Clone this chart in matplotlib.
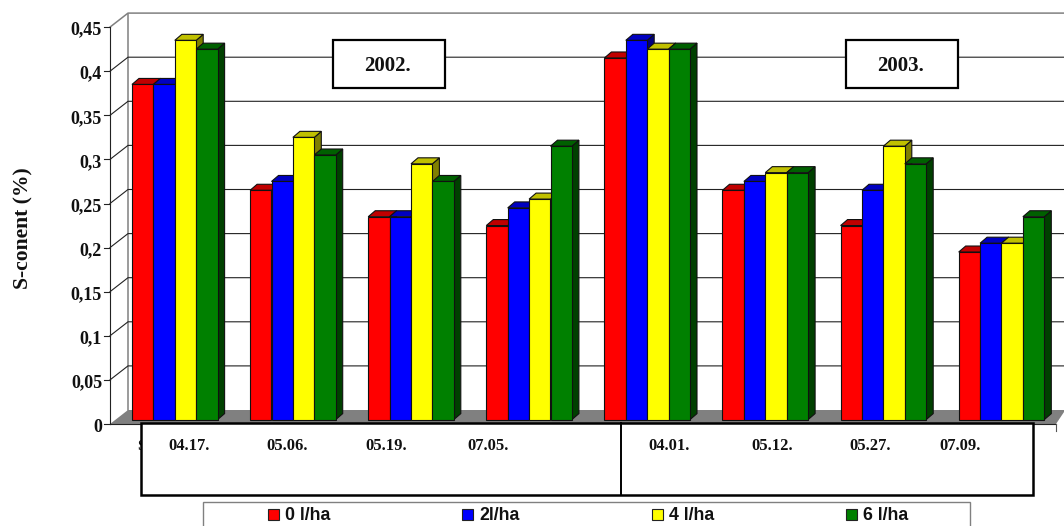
#!/usr/bin/env python3
"""S-content of the 2002 and 2003 samples, pseudo-3D bar chart"""

import matplotlib
matplotlib.use('Agg')
import matplotlib.pyplot as plt
from matplotlib.patches import Polygon, Rectangle

plt.rcParams['font.family'] = ['Liberation Serif', 'DejaVu Serif']
plt.rcParams['font.weight'] = 'bold'

dates_2002 = ['04.17.', '05.06.', '05.19.', '07.05.']
dates_2003 = ['04.01.', '05.12.', '05.27.', '07.09.']
doses = ['0 l/ha', '2l/ha', '4 l/ha', '6 l/ha']
ticks = [0, 0.05, 0.1, 0.15, 0.2, 0.25, 0.3, 0.35, 0.4, 0.45]
tick_labels = ['0', '0,05', '0,1', '0,15', '0,2', '0,25', '0,3', '0,35', '0,4', '0,45']

s_0 = [0.38, 0.26, 0.23, 0.22, 0.41, 0.26, 0.22, 0.19]
s_2 = [0.38, 0.27, 0.23, 0.24, 0.43, 0.27, 0.26, 0.20]
s_4 = [0.43, 0.32, 0.29, 0.25, 0.42, 0.28, 0.31, 0.20]
s_6 = [0.42, 0.30, 0.27, 0.31, 0.42, 0.28, 0.29, 0.23]
series = [s_0, s_2, s_4, s_6]

front = ['#ff0000', '#0000ff', '#ffff00', '#008000']
top = ['#c00000', '#0000c0', '#c0c000', '#006000']
side = ['#800000', '#000080', '#808000', '#004000']

W, H = 1064, 526
PX_PER_UNIT = 882       # vertical scale
BASE_Y = 419.6          # bar feet
GROUP_X0 = 132
GROUP_STEP = 118.1
BAR_W = 21.4
DEPTH_X, DEPTH_Y = 7, 6

fig = plt.figure(figsize=(W / 100, H / 100), dpi=100, facecolor='white')

# chart frame, labels and boxes, in pixel coordinates
deco = fig.add_axes([0, 0, 1, 1])
deco.set_xlim(0, W)
deco.set_ylim(H, 0)
deco.axis('off')

# bars, in value coordinates
ax = fig.add_axes([0, 0, 1, 1])
ax.set_xlim(-GROUP_X0 / GROUP_STEP, (W - GROUP_X0) / GROUP_STEP)
ax.set_ylim((BASE_Y - H) / PX_PER_UNIT, BASE_Y / PX_PER_UNIT)
ax.axis('off')
ax.patch.set_alpha(0)

# floor and walls
deco.add_patch(Polygon([(110, 424), (128, 410), (1064, 410), (1064, 412), (1056, 424)],
                       facecolor='#808080', edgecolor='none', zorder=1))
deco.plot([110, 1056], [424, 424], color='#222222', lw=0.8, zorder=2)
deco.plot([1056, 1056], [424, 431], color='#555555', lw=0.8, zorder=2)
deco.plot([128, 128], [410, 14], color='#808080', lw=1.1, zorder=2)
deco.plot([110, 110], [424, 27], color='#222222', lw=0.8, zorder=2)

for v, lab in zip(ticks, tick_labels):
    y_f = 424 - v * PX_PER_UNIT
    y_b = 410 - v * PX_PER_UNIT
    if v == ticks[-1]:
        deco.plot([110, 128, 1064], [y_f, y_b, y_b], color='#808080', lw=1.1, zorder=2)
    elif v > 0:
        deco.plot([110, 128, 1064], [y_f, y_b, y_b], color='#222222', lw=0.8, zorder=2)
    deco.plot([104, 110], [y_f, y_f], color='#222222', lw=0.8, zorder=2)
    deco.text(102, y_f + 3, lab, ha='right', va='center', fontsize=13, color='#111111', zorder=3)

deco.text(23.5, 228.5, 'S-conent (%)', rotation=90, ha='center', va='center',
          fontsize=15.6, color='#111111')

# year boxes
for x0, year in [(333, '2002.'), (846, '2003.')]:
    deco.add_patch(Rectangle((x0, 40), 112, 48, facecolor='white', edgecolor='black',
                             lw=1.6, zorder=4))
    deco.text(x0 + 54, 66, year, ha='center', va='center', fontsize=15, color='#111111', zorder=5)

# date table under the axis
deco.text(137, 447, 'S', ha='left', va='center', fontsize=11, color='#111111', zorder=3)
deco.add_patch(Rectangle((141, 423), 892, 72, facecolor='white', edgecolor='black',
                         lw=1.8, zorder=4))
deco.plot([621, 621], [423, 495], color='black', lw=1.4, zorder=5)
date_x = [189, 287, 386, 488, 669, 772, 870, 960]
for x, lab in zip(date_x, dates_2002 + dates_2003):
    deco.text(x, 446, lab, ha='center', va='center', fontsize=11.9, color='#111111', zorder=5)

# legend strip, runs off the bottom edge
deco.add_patch(Rectangle((203, 502), 767, 40, facecolor='white', edgecolor='#808080',
                         lw=1.0, zorder=4))
for x, lab, col in zip([268, 462, 652, 846], doses, front):
    deco.add_patch(Rectangle((x, 509), 11, 11, facecolor=col, edgecolor='#222222',
                             lw=0.8, zorder=5))
    deco.text(x + 17, 515, lab, ha='left', va='center', fontsize=12.8,
              family=['Liberation Sans', 'DejaVu Sans'], color='#111111', zorder=5)

# bars: front face, top and side of each
bw = BAR_W / GROUP_STEP
dx = DEPTH_X / GROUP_STEP
dy = DEPTH_Y / PX_PER_UNIT
z = 10
for g in range(len(s_0)):
    for k in range(4):
        v = series[k][g]
        x0 = g + k * bw
        x1 = x0 + bw
        ax.add_patch(Polygon([(x1, 0), (x1 + dx, dy), (x1 + dx, v + dy), (x1, v)],
                             facecolor=side[k], edgecolor='#111111', lw=0.8, zorder=z))
        ax.add_patch(Polygon([(x0, v), (x0 + dx, v + dy), (x1 + dx, v + dy), (x1, v)],
                             facecolor=top[k], edgecolor='#111111', lw=0.8, zorder=z))
        ax.bar(x0, v, width=bw, align='edge', color=front[k], edgecolor='#111111',
               linewidth=0.8, zorder=z + 1)
        z += 2

fig.savefig('out.png', dpi=100, facecolor='white')
